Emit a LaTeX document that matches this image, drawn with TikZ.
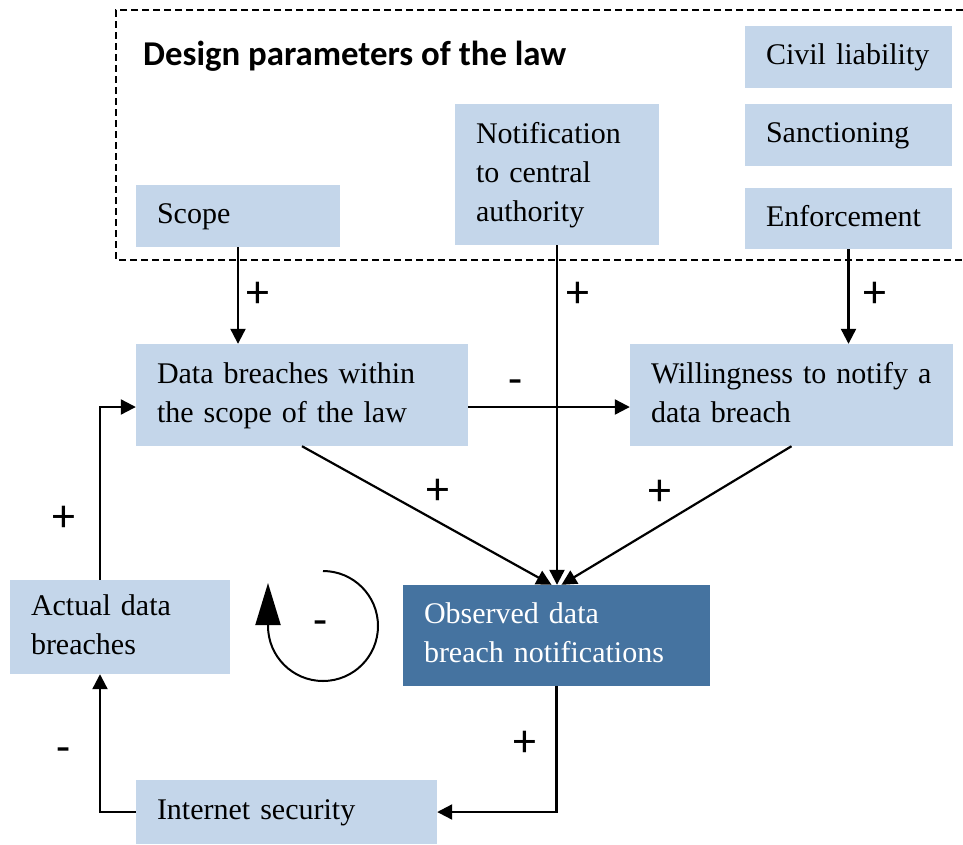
\documentclass[tikz,border=0pt]{standalone}
\usepackage{fontspec}
\setmainfont{Liberation Serif}
\newfontfamily\calib{Carlito}
\usetikzlibrary{arrows.meta}
\definecolor{boxlight}{RGB}{196,214,234}
\definecolor{boxdark}{RGB}{69,115,160}
\begin{document}
\begin{tikzpicture}[x=1pt,y=-1pt,
  box/.style={fill=boxlight, inner xsep=21pt, inner ysep=0pt, align=left,
    font=\fontsize{30}{39}\selectfont,
    execute at begin node=\strut, execute at end node=\strut},
  darkbox/.style={box, fill=boxdark, text=white},
  conn/.style={line width=2.2pt, -{Triangle[length=15pt,width=15pt]}},
  sgn/.style={font=\calib\fontsize{46}{46}\selectfont, inner sep=0pt},
  frame/.style={line width=1.2pt, dash pattern=on 7pt off 4pt}]
\useasboundingbox (0,0) rectangle (963,844);
% frame of design parameters
\coordinate (frTR) at (963,10);
\coordinate (frTL) at (116,10);
\coordinate (frBL) at (116,260);
\coordinate (frBR) at (963,260);
\draw[frame] (frTR) -- (frTL) -- (frBL) -- (frBR);
\node[anchor=base west, font=\calib\bfseries\fontsize{34.8}{34.8}\selectfont, inner sep=0pt] (title) at (143,65) {Design parameters of the law};
% boxes
\node[box, text width=165pt, minimum height=62pt] (civil) at (848.5,57) {Civil liability};
\node[box, text width=165pt, minimum height=62pt] (sanc) at (848.5,135) {Sanctioning};
\node[box, text width=165pt, minimum height=61pt] (enf) at (848.5,218.5) {Enforcement};
\node[box, text width=162pt, minimum height=141pt] (notif) at (557,174.5) {Notification\\to central\\authority};
\node[box, text width=162pt, minimum height=62pt] (scope) at (238,216) {Scope};
\node[box, text width=290pt, minimum height=102pt] (dbl) at (302,395) {\mbox{Data breaches within}\\\mbox{the scope of the law}};
\node[box, text width=281pt, minimum height=102pt] (will) at (791.5,395) {\mbox{Willingness to notify a}\\data breach};
\node[darkbox, text width=265pt, minimum height=101pt] (obs) at (556.5,635.5) {Observed data\\\mbox{breach notifications}};
\node[box, text width=178pt, minimum height=94pt] (actual) at (120,627) {Actual data\\breaches};
\node[box, text width=259pt, minimum height=64pt] (inet) at (286.5,812) {Internet security};
% connectors
\draw[conn] (scope) -- (scope |- dbl.north);
\draw[conn] (notif) -- (notif |- obs.north);
\draw[conn] (enf) -- (enf |- will.north);
\draw[conn] (dbl.east |- 0,407) -- (will.west |- 0,407);
\draw[conn] (dbl.south) -- ([xshift=-5pt]obs.north);
\draw[conn] (will.south) -- ([xshift=5pt]obs.north);
\draw[conn] (obs.south) |- (inet.east);
\draw[conn] (inet.west) -| ([xshift=-20pt]actual.south);
\draw[conn] ([xshift=-20pt]actual.north) |- (dbl.west |- 0,407);
% balancing loop symbol
\coordinate (loopstart) at (323,571);
\draw[line width=2pt, -{Triangle[length=42pt,width=25pt]}] (loopstart) arc[start angle=270, end angle=540, radius=55] -- ++(0,-43);
% signs
\node[sgn] (s1) at (258,295) {+};
\node[sgn] (s2) at (578,295) {+};
\node[sgn] (s3) at (875,295) {+};
\node[sgn] (s4) at (516,387) {-};
\node[sgn] (s5) at (438,492) {+};
\node[sgn] (s6) at (660,493) {+};
\node[sgn] (s7) at (64,519) {+};
\node[sgn] (s8) at (64,755) {-};
\node[sgn] (s9) at (525,744) {+};
\node[sgn] (s10) at (321,628) {-};
\end{tikzpicture}
\end{document}
